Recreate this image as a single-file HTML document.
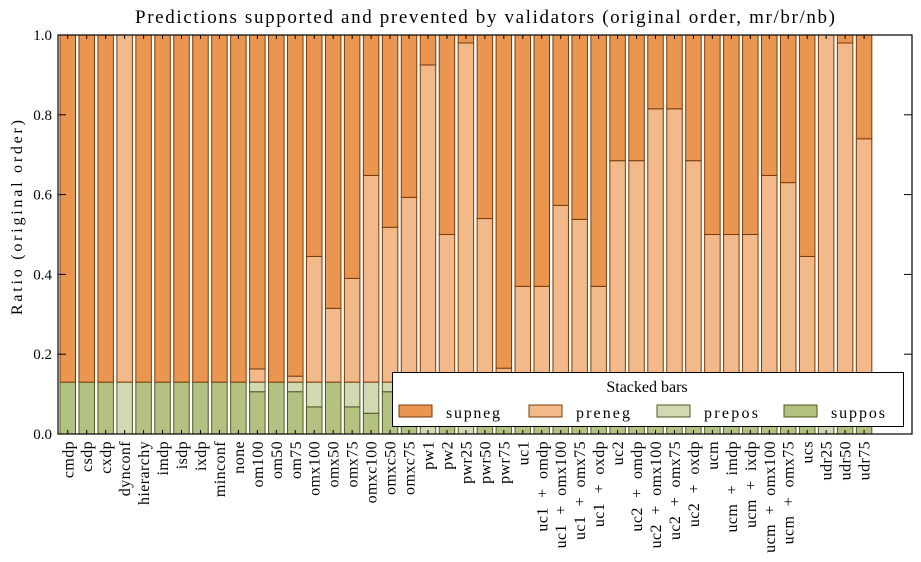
<!DOCTYPE html>
<html><head><meta charset="utf-8"><style>
html,body{margin:0;padding:0;background:#fff;width:921px;height:562px;overflow:hidden}
svg text{font-family:"Liberation Serif","DejaVu Serif",serif;fill:#000}
</style></head><body>
<svg id="s" width="921" height="562" xmlns="http://www.w3.org/2000/svg"></svg>
<script>
const s=document.getElementById('s');
const names=["cmdp","csdp","cxdp","dynconf","hierarchy","imdp","isdp","ixdp","minconf","none","om100","om50","om75","omx100","omx50","omx75","omxc100","omxc50","omxc75","pw1","pw2","pwr25","pwr50","pwr75","uc1","uc1 + omdp","uc1 + omx100","uc1 + omx75","uc1 + oxdp","uc2","uc2 + omdp","uc2 + omx100","uc2 + omx75","uc2 + oxdp","ucm","ucm + imdp","ucm + ixdp","ucm + omx100","ucm + omx75","ucs","udr25","udr50","udr75"];
const d={};
names.forEach(n=>d[n]=[.13,.13,.13]);
d.dynconf=[0,.13,1];
d.om100=[.106,.13,.163];d.om75=[.106,.13,.145];
d.omx100=[.068,.13,.445];d.omx50=[.13,.13,.315];d.omx75=[.068,.13,.39];
d.omxc100=[.052,.13,.648];d.omxc50=[.106,.13,.518];d.omxc75=[.13,.13,.593];
const pn={pw1:.925,pw2:.5,pwr25:.98,pwr50:.54,pwr75:.165,uc1:.37,"uc1 + omdp":.37,"uc1 + omx100":.573,"uc1 + omx75":.538,"uc1 + oxdp":.37,uc2:.685,"uc2 + omdp":.685,"uc2 + omx100":.815,"uc2 + omx75":.815,"uc2 + oxdp":.685,ucm:.5,"ucm + imdp":.5,"ucm + ixdp":.5,"ucm + omx100":.648,"ucm + omx75":.63,ucs:.445,udr25:1,udr50:.98,udr75:.74};
for(const k in pn)d[k]=[.13,.13,pn[k]];
d.pw1=[0,.13,.925];d.pwr25=[0,.13,.98];d.udr25=[0,.13,1];
const Y=v=>434-399*v;
let h='';
const cols=[["#b3c281","#4c5a22"],["#d1d9b2","#4c5a22"],["#f2b98a","#7a3a05"],["#eb9650","#7a3a05"]];
names.forEach((n,i)=>{
 const x=60+18.96*i,w=15.5;
 const v=[0,...d[n],1];
 for(let k=0;k<4;k++){
  const a=v[k],b=v[k+1]; if(b-a<=0.0001)continue;
  h+=`<rect x="${x}" y="${Y(b)}" width="${w}" height="${Y(a)-Y(b)}" fill="${cols[k][0]}" stroke="${cols[k][1]}" stroke-width="1"/>`;
 }
 const c=x+w/2;
 h+=`<line x1="${c}" y1="434" x2="${c}" y2="430" stroke="#000"/><line x1="${c}" y1="35" x2="${c}" y2="39" stroke="#000"/>`;
 h+=`<text transform="translate(${c+5.5},441) rotate(-90)" text-anchor="end" font-size="16" letter-spacing="0.4" word-spacing="5">${n}</text>`;
});
for(let t=0;t<=5;t++){
 const y=Y(t*.2);
 h+=`<line x1="58" y1="${y}" x2="66" y2="${y}" stroke="#000"/><line x1="912" y1="${y}" x2="904" y2="${y}" stroke="#000"/>`;
 h+=`<text x="52" y="${y+5}" text-anchor="end" font-size="15">${(t*.2).toFixed(1)}</text>`;
}
h+=`<rect x="58" y="35" width="854" height="399" fill="none" stroke="#000" stroke-width="1.2"/>`;
h+=`<text x="135" y="23" font-size="19" textLength="700" lengthAdjust="spacing">Predictions supported and prevented by validators (original order, mr/br/nb)</text>`;
h+=`<text transform="translate(22,315) rotate(-90)" font-size="16" textLength="195" lengthAdjust="spacing">Ratio (original order)</text>`;
h+=`<rect x="392.5" y="372.5" width="511" height="54" fill="#fff" stroke="#000" stroke-width="1"/>`;
h+=`<text x="647" y="392" text-anchor="middle" font-size="16">Stacked bars</text>`;
const L=[["supneg",399,"#eb9650","#7a3a05"],["preneg",529,"#f2b98a","#7a3a05"],["prepos",657,"#d1d9b2","#4c5a22"],["suppos",784,"#b3c281","#4c5a22"]];
L.forEach(([n,x,f,e])=>{
 h+=`<rect x="${x}" y="405" width="33" height="12" fill="${f}" stroke="${e}"/>`;
 h+=`<text x="${x+47}" y="418" font-size="16" textLength="54" lengthAdjust="spacing">${n}</text>`;
});
s.innerHTML=h;
</script>
</body></html>
